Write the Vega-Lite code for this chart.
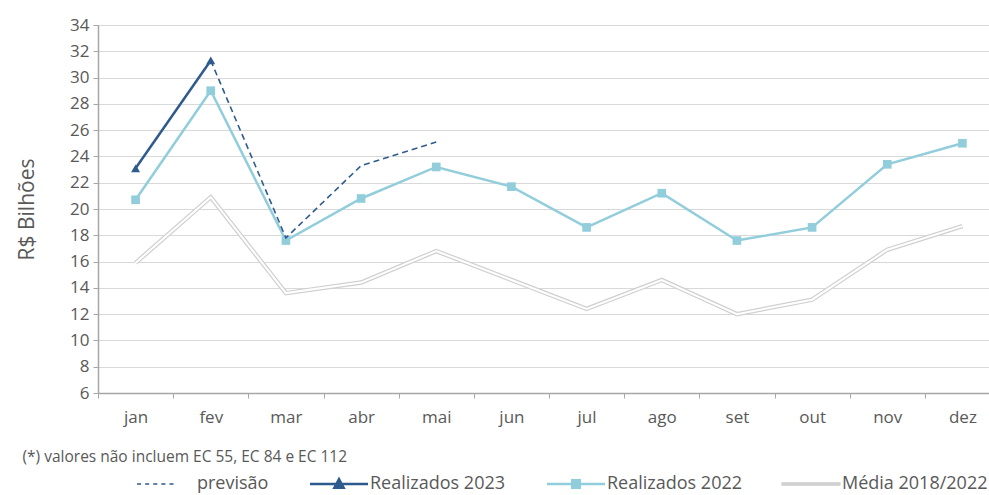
{
  "$schema": "https://vega.github.io/schema/vega-lite/v6.json",
  "width": 891,
  "height": 368,
  "autosize": {"type": "none"},
  "padding": {"left": 98, "top": 25, "right": 0, "bottom": 102},
  "background": "white",
  "config": {
    "font": "Open Sans",
    "view": {"stroke": null}
  },
  "data": {
    "values": [
      {"mes": "jan", "serie": "Média 2018/2022", "valor": 15.9},
      {"mes": "fev", "serie": "Média 2018/2022", "valor": 20.9},
      {"mes": "mar", "serie": "Média 2018/2022", "valor": 13.6},
      {"mes": "abr", "serie": "Média 2018/2022", "valor": 14.4},
      {"mes": "mai", "serie": "Média 2018/2022", "valor": 16.8},
      {"mes": "jun", "serie": "Média 2018/2022", "valor": 14.6},
      {"mes": "jul", "serie": "Média 2018/2022", "valor": 12.4},
      {"mes": "ago", "serie": "Média 2018/2022", "valor": 14.6},
      {"mes": "set", "serie": "Média 2018/2022", "valor": 12.0},
      {"mes": "out", "serie": "Média 2018/2022", "valor": 13.1},
      {"mes": "nov", "serie": "Média 2018/2022", "valor": 16.9},
      {"mes": "dez", "serie": "Média 2018/2022", "valor": 18.7},
      {"mes": "jan", "serie": "Realizados 2022", "valor": 20.7},
      {"mes": "fev", "serie": "Realizados 2022", "valor": 29.0},
      {"mes": "mar", "serie": "Realizados 2022", "valor": 17.6},
      {"mes": "abr", "serie": "Realizados 2022", "valor": 20.8},
      {"mes": "mai", "serie": "Realizados 2022", "valor": 23.2},
      {"mes": "jun", "serie": "Realizados 2022", "valor": 21.7},
      {"mes": "jul", "serie": "Realizados 2022", "valor": 18.6},
      {"mes": "ago", "serie": "Realizados 2022", "valor": 21.2},
      {"mes": "set", "serie": "Realizados 2022", "valor": 17.6},
      {"mes": "out", "serie": "Realizados 2022", "valor": 18.6},
      {"mes": "nov", "serie": "Realizados 2022", "valor": 23.4},
      {"mes": "dez", "serie": "Realizados 2022", "valor": 25.0},
      {"mes": "fev", "serie": "previsão", "valor": 31.3},
      {"mes": "mar", "serie": "previsão", "valor": 17.8},
      {"mes": "abr", "serie": "previsão", "valor": 23.3},
      {"mes": "mai", "serie": "previsão", "valor": 25.1},
      {"mes": "jan", "serie": "Realizados 2023", "valor": 23.1},
      {"mes": "fev", "serie": "Realizados 2023", "valor": 31.3}
    ]
  },
  "encoding": {
    "x": {
      "field": "mes",
      "type": "nominal",
      "sort": ["jan", "fev", "mar", "abr", "mai", "jun", "jul", "ago", "set", "out", "nov", "dez"],
      "scale": {"domain": ["jan", "fev", "mar", "abr", "mai", "jun", "jul", "ago", "set", "out", "nov", "dez"], "range": [0, 902], "paddingInner": 0, "paddingOuter": 0},
      "axis": {
        "title": "(*) valores não incluem EC 55, EC 84 e EC 112",
        "titleFontSize": 15.5,
        "titleFontWeight": "normal",
        "titleColor": "#595959",
        "titleAlign": "left",
        "titleAnchor": "start",
        "titleX": -76,
        "titleY": 63,
        "titleBaseline": "middle",
        "labelAngle": 0,
        "labelFontSize": 17,
        "labelColor": "#595959",
        "labelPadding": 11,
        "tickBand": "extent",
        "tickSize": 5,
        "tickColor": "#a6a6a6",
        "domainColor": "#a6a6a6",
        "domainWidth": 1.5,
        "grid": false
      }
    },
    "y": {
      "field": "valor",
      "type": "quantitative",
      "scale": {"domain": [6, 34], "nice": false, "zero": false},
      "axis": {
        "title": "R$ Bilhões",
        "titleFontSize": 21,
        "titleFontWeight": "normal",
        "titleColor": "#595959",
        "titlePadding": 32,
        "values": [6, 8, 10, 12, 14, 16, 18, 20, 22, 24, 26, 28, 30, 32, 34],
        "labelFontSize": 17,
        "labelColor": "#595959",
        "labelPadding": 4,
        "tickSize": 5,
        "tickColor": "#a6a6a6",
        "domainColor": "#a6a6a6",
        "domainWidth": 1.5,
        "gridColor": "#d9d9d9",
        "gridWidth": 1.2
      }
    },
    "color": {
      "field": "serie",
      "type": "nominal",
      "scale": {
        "domain": ["previsão", "Realizados 2023", "Realizados 2022", "Média 2018/2022"],
        "range": ["#2f5a8e", "#2f5a8e", "#92cddc", "#d0d0d0"]
      },
      "legend": {
        "title": null,
        "orient": "none",
        "legendX": 59,
        "legendY": 450,
        "direction": "horizontal",
        "columns": 4,
        "columnPadding": 36,
        "labelFontSize": 18,
        "labelColor": "#595959",
        "labelOffset": 22,
        "symbolSize": 3364,
        "symbolStrokeWidth": 2,
        "encode": {
          "symbols": {
            "update": {
              "shape": {"signal": "datum.value === 'previsão' ? 'M-1,0H-0.86M-0.72,0H-0.58M-0.44,0H-0.3M-0.16,0H-0.02M0.12,0H0.26' : datum.value === 'Realizados 2023' ? 'M-1,0H1M-0.16,0.13L0,-0.17L0.16,0.13Z' : datum.value === 'Realizados 2022' ? 'M-1,0H1M-0.13,-0.13H0.13V0.13H-0.13Z' : 'M-1,-0.04H1V0.04H-1Z'"},
              "fill": {"signal": "datum.value === 'Média 2018/2022' ? 'white' : datum.value === 'Realizados 2022' ? '#92cddc' : '#2f5a8e'"},
              "stroke": {"signal": "datum.value === 'Média 2018/2022' ? '#d0d0d0' : datum.value === 'Realizados 2022' ? '#92cddc' : '#2f5a8e'"},
              "strokeWidth": {"signal": "datum.value === 'previsão' ? 1.5 : datum.value === 'Média 2018/2022' ? 1.2 : 2.5"},
              "opacity": {"value": 1}
            }
          }
        }
      }
    }
  },
  "layer": [
    {
      "transform": [{"filter": "datum.serie === 'Média 2018/2022'"}],
      "mark": {"type": "line", "strokeWidth": 4.5}
    },
    {
      "transform": [{"filter": "datum.serie === 'Média 2018/2022'"}],
      "mark": {"type": "line", "strokeWidth": 2, "color": "white"},
      "encoding": {"color": {"value": "white"}}
    },
    {
      "transform": [{"filter": "datum.serie === 'Realizados 2022'"}],
      "mark": {"type": "line", "strokeWidth": 2.5}
    },
    {
      "transform": [{"filter": "datum.serie === 'Realizados 2022'"}],
      "mark": {"type": "point", "shape": "square", "filled": true, "size": 75, "opacity": 1}
    },
    {
      "transform": [{"filter": "datum.serie === 'previsão'"}],
      "mark": {"type": "line", "strokeWidth": 1.6, "strokeDash": [6, 4]}
    },
    {
      "transform": [{"filter": "datum.serie === 'Realizados 2023'"}],
      "mark": {"type": "line", "strokeWidth": 2.5}
    },
    {
      "transform": [{"filter": "datum.serie === 'Realizados 2023'"}],
      "mark": {"type": "point", "shape": "triangle-up", "filled": true, "size": 80, "opacity": 1}
    }
  ]
}
